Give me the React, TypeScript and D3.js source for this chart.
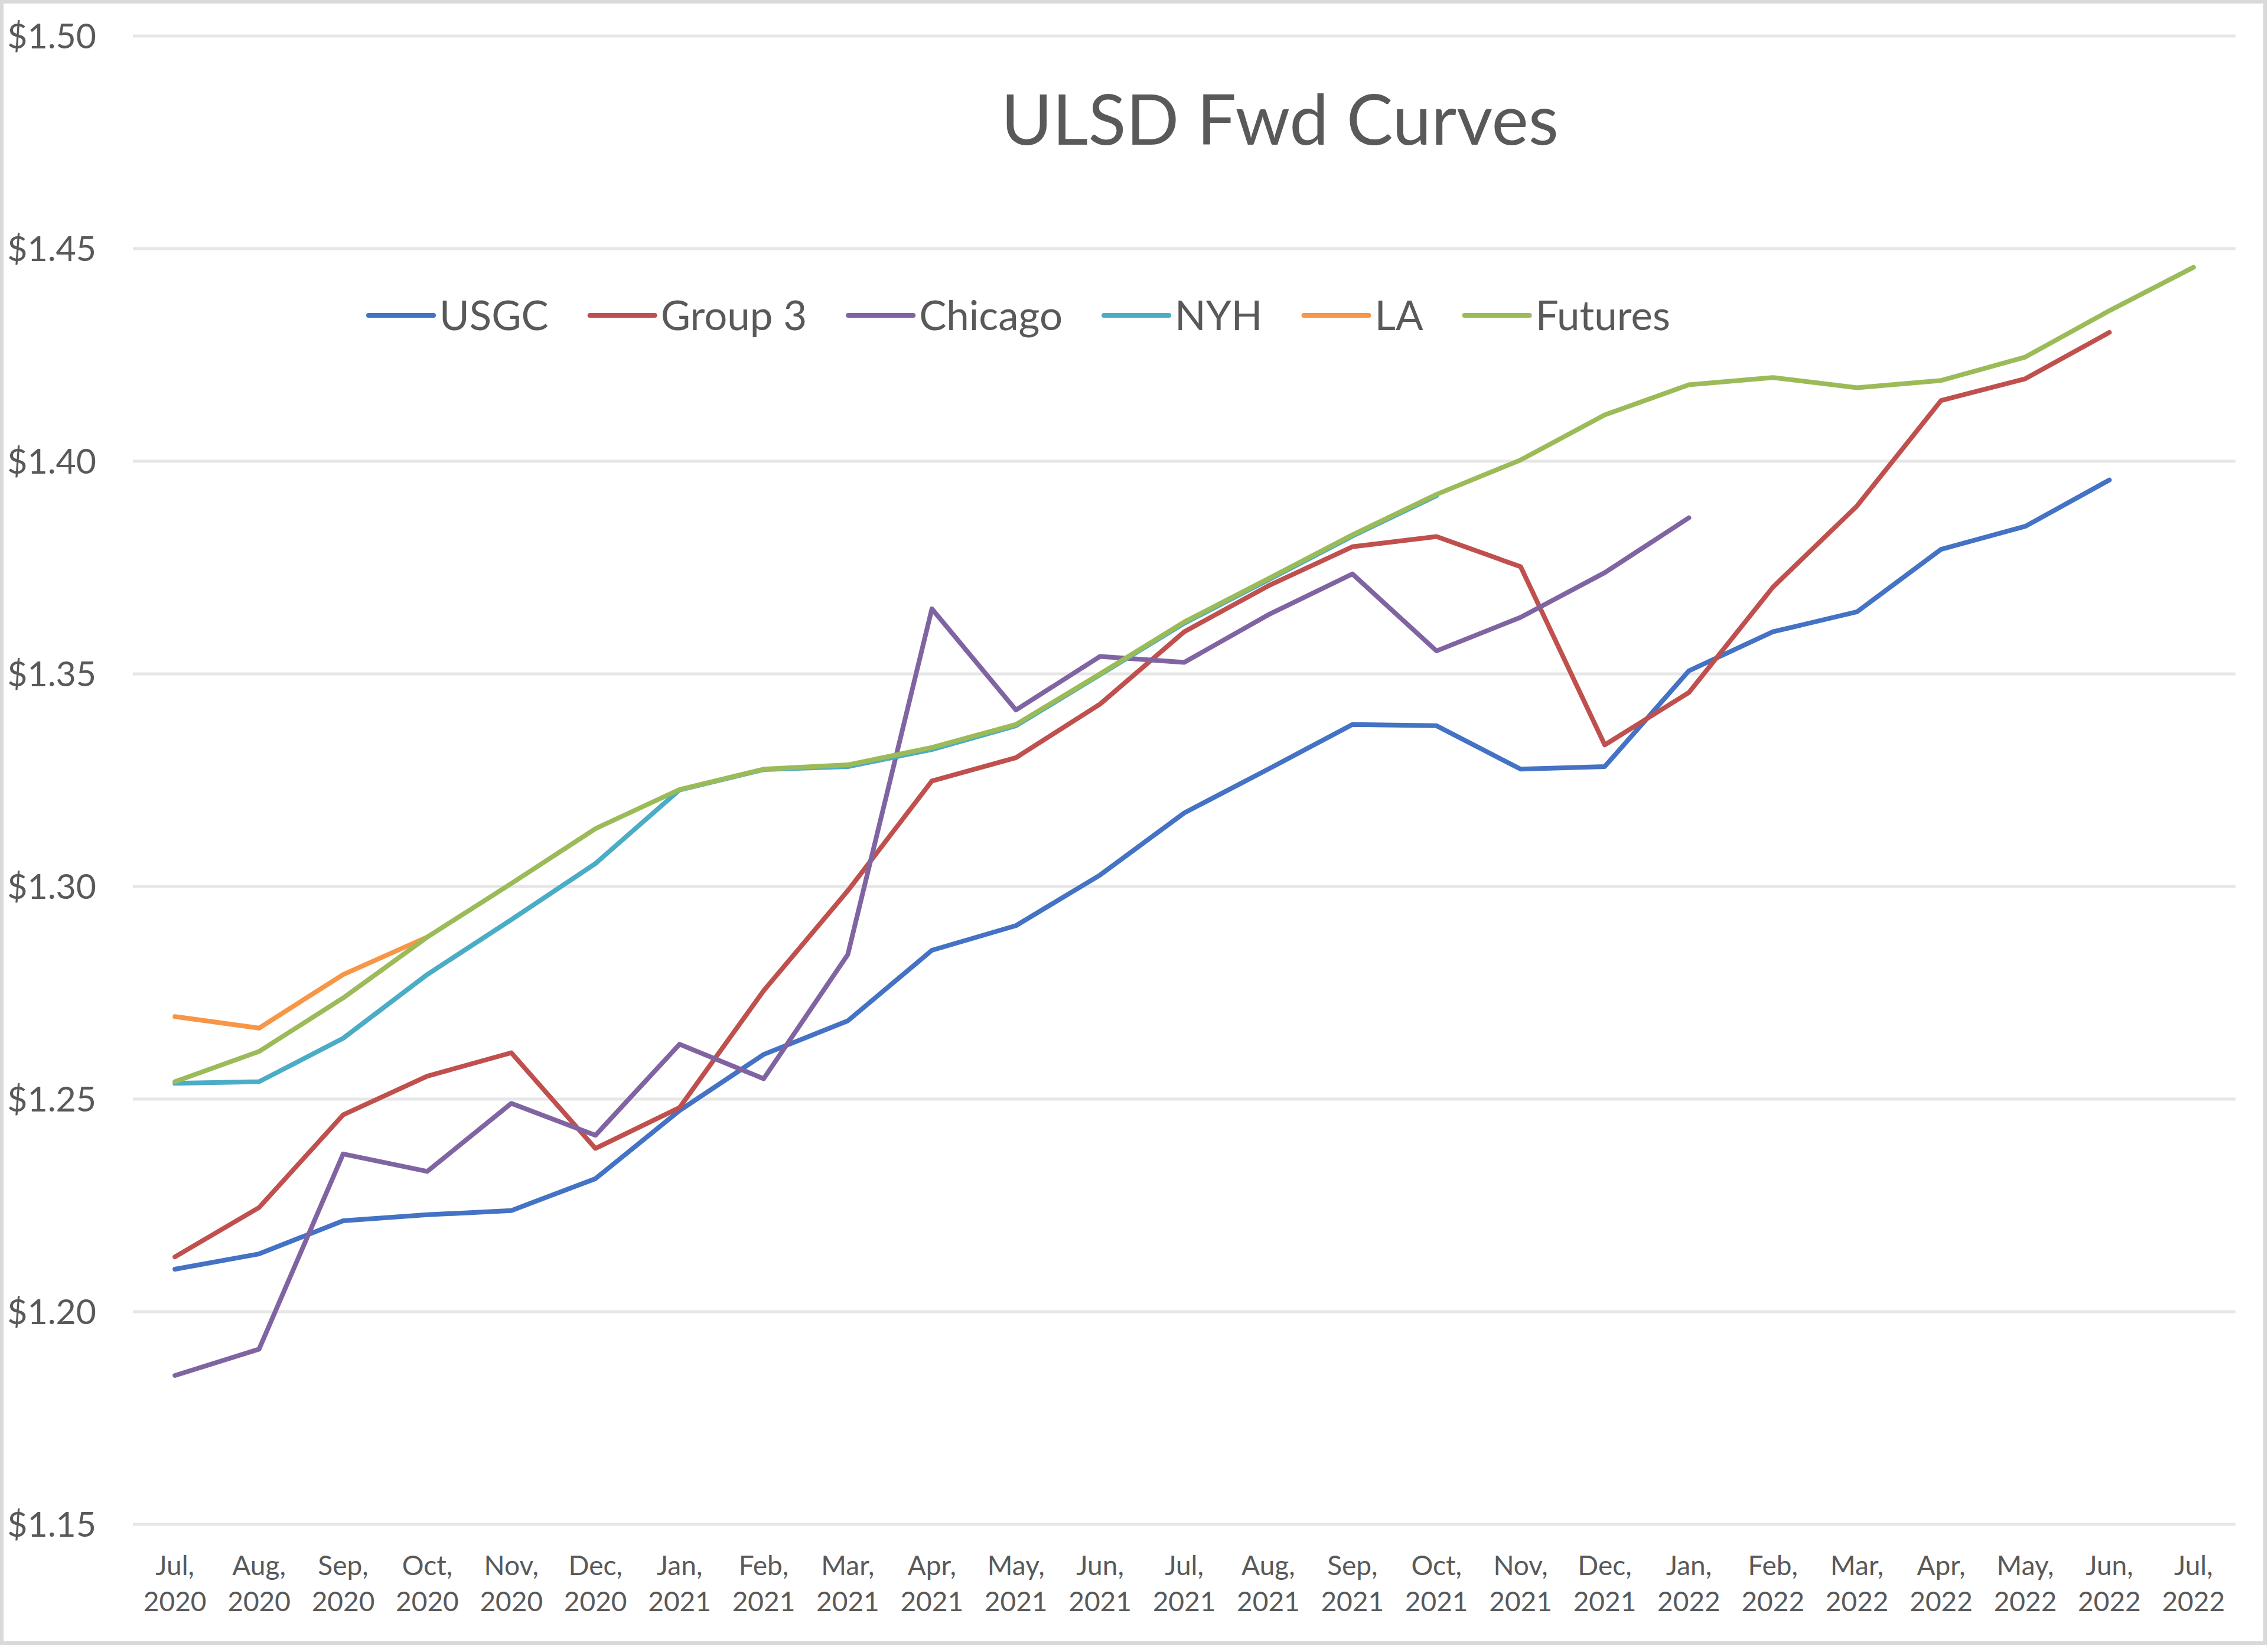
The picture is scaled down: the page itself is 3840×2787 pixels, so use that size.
import { useEffect, useRef } from "react";
import * as d3 from "d3";

const months = [
  "Jul,|2020", "Aug,|2020", "Sep,|2020", "Oct,|2020", "Nov,|2020", "Dec,|2020",
  "Jan,|2021", "Feb,|2021", "Mar,|2021", "Apr,|2021", "May,|2021", "Jun,|2021",
  "Jul,|2021", "Aug,|2021", "Sep,|2021", "Oct,|2021", "Nov,|2021", "Dec,|2021",
  "Jan,|2022", "Feb,|2022", "Mar,|2022", "Apr,|2022", "May,|2022", "Jun,|2022",
  "Jul,|2022",
];

const usgc = [
  1.21, 1.2136, 1.2214, 1.2228, 1.2238, 1.2313, 1.2473, 1.2605, 1.2684, 1.285,
  1.2908, 1.3027, 1.3173, 1.3276, 1.3381, 1.3378, 1.3276, 1.3282, 1.3507, 1.3599,
  1.3646, 1.3793, 1.3847, 1.3956, null,
];
const group3 = [
  1.2129, 1.2245, 1.2463, 1.2554, 1.2609, 1.2384, 1.248, 1.2755, 1.299, 1.3248,
  1.3303, 1.3429, 1.3599, 1.3707, 1.3799, 1.3823, 1.3752, 1.3333, 1.3456, 1.3704,
  1.3895, 1.4143, 1.4194, 1.4303, null,
];
const chicago = [
  1.185, 1.1912, 1.2371, 1.233, 1.249, 1.2415, 1.2629, 1.2548, 1.284, 1.3653,
  1.3415, 1.3541, 1.3527, 1.3639, 1.3735, 1.3554, 1.3633, 1.3738, 1.3867, null,
  null, null, null, null, null,
];
const nyh = [
  1.2537, 1.2541, 1.2643, 1.2793, 1.2922, 1.3054, 1.3227, 1.3275, 1.3282, 1.3322,
  1.3378, 1.3498, 1.3619, 1.3721, 1.3824, 1.3919, null, null, null, null,
  null, null, null, null, null,
];
const la = [
  1.2694, 1.2667, 1.2793, 1.2881, null, null, null, null, null, null,
  null, null, null, null, null, null, null, null, null, null,
  null, null, null, null, null,
];
const futures = [
  1.2541, 1.2612, 1.2738, 1.2881, 1.3007, 1.3136, 1.3228, 1.3276, 1.3286, 1.3327,
  1.3381, 1.35, 1.3622, 1.3724, 1.3827, 1.3922, 1.4003, 1.4109, 1.418, 1.4197,
  1.4173, 1.419, 1.4245, 1.4354, 1.4456,
];

const seriesNames = ["USGC", "Group 3", "Chicago", "NYH", "LA", "Futures"];
const seriesValues = [usgc, group3, chicago, nyh, la, futures];
const seriesColors = ["#4472C4", "#C0504D", "#8064A2", "#4BACC6", "#F79646", "#9BBB59"];
const yTicks = [1.15, 1.2, 1.25, 1.3, 1.35, 1.4, 1.45, 1.5];

const App = () => {
  const svgRef = useRef(null);

  const width = 3840;
  const height = 2787;
  const plotLeft = 225;
  const plotRight = 3785;
  const plotTop = 61;
  const plotBottom = 2581;
  const font = "Lato, 'Open Sans', sans-serif";
  const textColor = "#595959";

  useEffect(() => {
    const svg = d3.select(svgRef.current);
    svg.selectAll("*").remove();

    const x = d3.scalePoint().domain(months).range([plotLeft, plotRight]).padding(0.5);
    const y = d3.scaleLinear().domain([1.15, 1.5]).range([plotBottom, plotTop]);

    svg.append("rect")
      .attr("x", 3).attr("y", 3)
      .attr("width", width - 8).attr("height", height - 8)
      .attr("fill", "white").attr("stroke", "#d9d9d9").attr("stroke-width", 6);

    // gridlines + y labels
    const yAxis = svg.append("g");
    yAxis.selectAll("line")
      .data(yTicks)
      .join("line")
      .attr("x1", plotLeft).attr("x2", plotRight)
      .attr("y1", (d) => y(d)).attr("y2", (d) => y(d))
      .attr("stroke", "#e6e6e6").attr("stroke-width", 5);
    yAxis.selectAll("text")
      .data(yTicks)
      .join("text")
      .attr("x", 163).attr("y", (d) => y(d))
      .attr("dy", "0.36em")
      .attr("text-anchor", "end")
      .attr("font-family", font).attr("font-size", 59)
      .attr("fill", textColor)
      .text((d) => "$" + d3.format(".2f")(d));

    // x labels
    const xAxis = svg.append("g");
    const lbl = xAxis.selectAll("text")
      .data(months)
      .join("text")
      .attr("text-anchor", "middle")
      .attr("font-family", font).attr("font-size", 46)
      .attr("fill", textColor);
    lbl.append("tspan").attr("x", (d) => x(d)).attr("y", 2667).text((d) => d.split("|")[0]);
    lbl.append("tspan").attr("x", (d) => x(d)).attr("y", 2728).text((d) => d.split("|")[1]);

    // lines
    const line = d3.line<number | null>()
      .defined((d) => d != null)
      .x((d, i) => x(months[i]))
      .y((d) => y(d as number));

    svg.append("g")
      .attr("fill", "none")
      .attr("stroke-linejoin", "round")
      .attr("stroke-linecap", "round")
      .selectAll("path")
      .data(seriesValues)
      .join("path")
      .attr("stroke", (d, i) => seriesColors[i])
      .attr("stroke-width", 8)
      .attr("d", (d) => line(d));

    // title
    svg.append("text")
      .attr("x", 2167).attr("y", 245)
      .attr("text-anchor", "middle")
      .attr("font-family", font).attr("font-size", 118)
      .attr("fill", textColor)
      .text("ULSD Fwd Curves");

    // legend
    const legend = svg.append("g").attr("transform", "translate(624,534)");
    let cx = 0;
    seriesNames.forEach((name, i) => {
      const g = legend.append("g").attr("transform", `translate(${cx},0)`);
      g.append("line")
        .attr("x1", 0).attr("x2", 110)
        .attr("stroke", seriesColors[i]).attr("stroke-width", 8)
        .attr("stroke-linecap", "round");
      const t = g.append("text")
        .attr("x", 120).attr("y", 0).attr("dy", "0.36em")
        .attr("font-family", font).attr("font-size", 69)
        .attr("fill", textColor)
        .text(name);
      const w = (t.node() as SVGTextElement).getComputedTextLength();
      cx += 120 + w + 70;
    });
  });

  return (
    <svg
      ref={svgRef}
      width={width}
      height={height}
      viewBox={`0 0 ${width} ${height}`}
      style={{ position: "absolute", left: 0, top: 0, background: "white" }}
    ></svg>
  );
};

export default App;
